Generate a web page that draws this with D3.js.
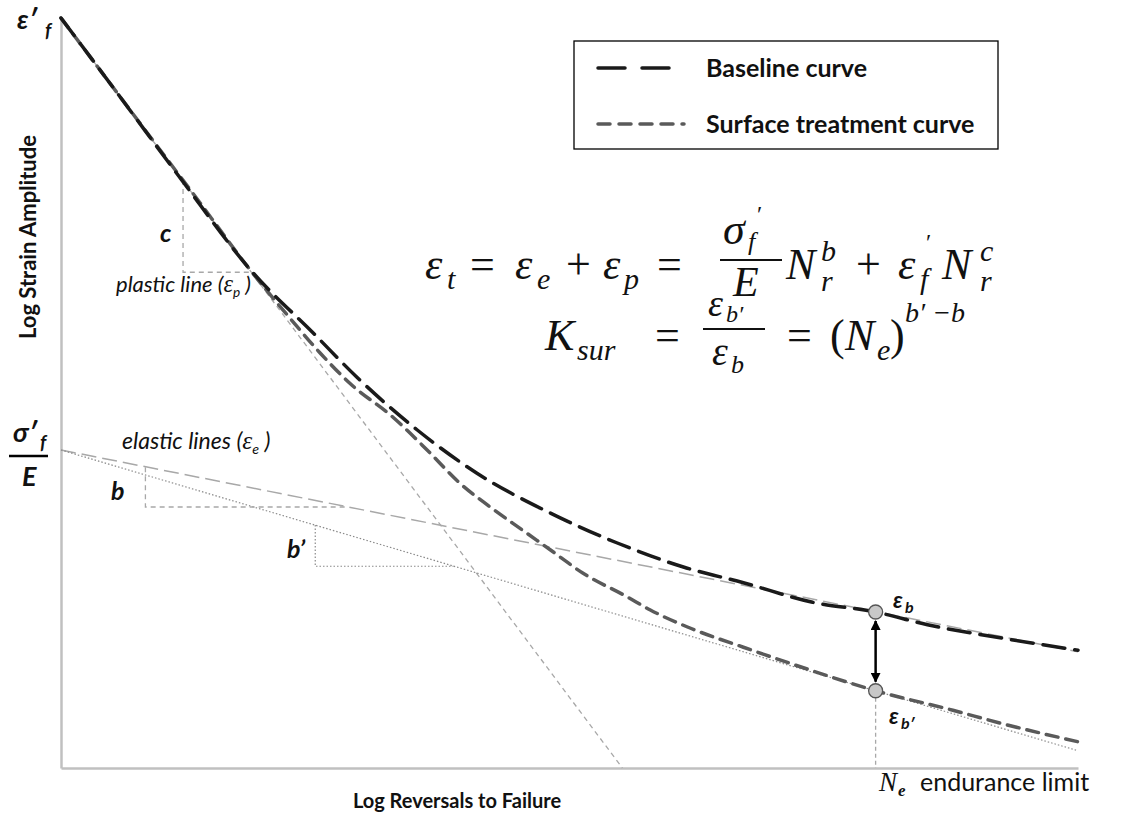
<!DOCTYPE html>
<html>
<head>
<meta charset="utf-8">
<script src="https://cdn.jsdelivr.net/npm/d3@7"></script>
<style>
  body { margin: 0; background: #fff; }
  text { font-family: Lato, "Noto Sans", sans-serif; fill: #111; }
  .math { font-family: "Liberation Serif", "DejaVu Serif", serif; font-style: italic; }
  .up { font-style: normal; }
</style>
</head>
<body>
<svg id="chart" width="1121" height="816"></svg>
<script>
// values in log units, both axes 0..100
var plasticLine = [[0, 100], [55.2, 0]];
var elasticLine = [[0, 42.4], [100, 15.5]];
var elasticLineSur = [[0, 42.4], [100, 2.3]];

var baselineCurve = [
  [0, 100], [5.8, 89.5], [11.7, 78.7], [18.9, 66.0], [24.8, 58.0], [29.1, 52.1],
  [35.0, 45.1], [40.9, 39.3], [48.1, 34.0], [54.7, 30.0], [61.2, 26.8], [67.1, 24.7],
  [73.9, 22.1], [80.1, 20.8], [85.2, 19.1], [92.6, 17.3], [100, 15.7]
];
var surfaceCurve = [
  [0, 100], [8.8, 84.1], [13.7, 75.3], [18.6, 66.4], [22.5, 60.0], [25.5, 55.3],
  [28.4, 51.3], [32.7, 46.7], [36.0, 42.4], [39.2, 38.0], [42.2, 34.8], [45.4, 31.7],
  [48.1, 29.1], [51.3, 26.0], [55.7, 22.8], [57.9, 21.1], [61.6, 18.8], [67.1, 16.1],
  [72.7, 13.5], [80.1, 10.3], [87.7, 7.7], [92.3, 6.0], [100, 3.5]
];

var triC = [[12.0, 78.4], [12.0, 66.1], [18.6, 66.1]];
var triB = [[8.3, 40.1], [8.3, 34.8], [27.9, 34.8]];
var triB2 = [[25.0, 32.4], [25.0, 26.9], [38.6, 26.9]];

var enduranceN = 80.1;
var enduranceStrain = [20.8, 10.3];

var legendNames = ["Baseline curve", "Surface treatment curve"];

var svg = d3.select("#chart");

var x = d3.scaleLinear().domain([0, 100]).range([61, 1078]);
var y = d3.scaleLinear().domain([0, 100]).range([768, 18]);

var line = d3.line().x(function(d) { return x(d[0]); }).y(function(d) { return y(d[1]); });
var curve = d3.line().x(function(d) { return x(d[0]); }).y(function(d) { return y(d[1]); })
    .curve(d3.curveMonotoneX);

// axes (no ticks)
svg.append("g").attr("transform", "translate(0," + y(0) + ")")
    .call(d3.axisBottom(x).tickValues([]).tickSizeOuter(0));
svg.append("g").attr("transform", "translate(" + x(0) + ",0)")
    .call(d3.axisLeft(y).tickValues([]).tickSizeOuter(0));
svg.selectAll(".domain").attr("stroke", "#c0c0c0").attr("stroke-width", 2.5);

// guide lines
svg.append("path").attr("d", line(plasticLine)).attr("fill", "none")
    .attr("stroke", "#a8a8a8").attr("stroke-width", 1.3).attr("stroke-dasharray", "5,4");
svg.append("path").attr("d", line(elasticLine)).attr("fill", "none")
    .attr("stroke", "#a8a8a8").attr("stroke-width", 1.5).attr("stroke-dasharray", "15,6");
svg.append("path").attr("d", line(elasticLineSur)).attr("fill", "none")
    .attr("stroke", "#8a8a8a").attr("stroke-width", 1.2).attr("stroke-dasharray", "1.5,2");

svg.append("path").attr("d", line(triC)).attr("fill", "none")
    .attr("stroke", "#a8a8a8").attr("stroke-width", 1.3).attr("stroke-dasharray", "5,4");
svg.append("path").attr("d", line(triB)).attr("fill", "none")
    .attr("stroke", "#a8a8a8").attr("stroke-width", 1.3).attr("stroke-dasharray", "5,4");
svg.append("path").attr("d", line(triB2)).attr("fill", "none")
    .attr("stroke", "#8a8a8a").attr("stroke-width", 1.2).attr("stroke-dasharray", "1.5,2");

// endurance drop line
svg.append("line")
    .attr("x1", x(enduranceN)).attr("x2", x(enduranceN))
    .attr("y1", y(enduranceStrain[1])).attr("y2", y(0))
    .attr("stroke", "#a8a8a8").attr("stroke-width", 1.3).attr("stroke-dasharray", "4,3");

// curves
svg.append("path").attr("d", curve(surfaceCurve)).attr("fill", "none")
    .attr("stroke", "#5a5a5a").attr("stroke-width", 3.5).attr("stroke-dasharray", "12,8")
    .attr("stroke-linecap", "round");
svg.append("path").attr("d", curve(baselineCurve)).attr("fill", "none")
    .attr("stroke", "#1a1a1a").attr("stroke-width", 3.5).attr("stroke-dasharray", "22,10")
    .attr("stroke-linecap", "round");

// arrow between the two strains
var defs = svg.append("defs");
["arrEnd", "arrStart"].forEach(function(id, i) {
  defs.append("marker").attr("id", id).attr("viewBox", "0 0 10 10")
      .attr("refX", 9).attr("refY", 5).attr("markerWidth", 4).attr("markerHeight", 4)
      .attr("orient", i ? "auto-start-reverse" : "auto")
    .append("path").attr("d", "M0,0L10,5L0,10Z").attr("fill", "#000");
});
svg.append("line")
    .attr("x1", x(enduranceN)).attr("x2", x(enduranceN))
    .attr("y1", y(enduranceStrain[0]) + 9).attr("y2", y(enduranceStrain[1]) - 9)
    .attr("stroke", "#000").attr("stroke-width", 2.5)
    .attr("marker-start", "url(#arrStart)").attr("marker-end", "url(#arrEnd)");

svg.selectAll(".pt").data(enduranceStrain).enter().append("circle")
    .attr("class", "pt")
    .attr("cx", x(enduranceN)).attr("cy", function(d) { return y(d); })
    .attr("r", 7).attr("fill", "#c8c8c8").attr("stroke", "#555").attr("stroke-width", 1.3);

// legend
var lg = svg.append("g");
lg.append("rect").attr("x", 574).attr("y", 41).attr("width", 424).attr("height", 108)
    .attr("fill", "#fff").attr("stroke", "#000").attr("stroke-width", 1.3);
lg.selectAll(".ll").data(legendNames).enter().append("line")
    .attr("x1", 598).attr("x2", 684)
    .attr("y1", function(d, i) { return 68 + i * 56; }).attr("y2", function(d, i) { return 68 + i * 56; })
    .attr("stroke", function(d, i) { return i ? "#5a5a5a" : "#1a1a1a"; })
    .attr("stroke-width", 3.5)
    .attr("stroke-dasharray", function(d, i) { return i ? "12,9" : "27,17"; })
    .attr("stroke-linecap", "round");
lg.selectAll(".lt").data(legendNames).enter().append("text")
    .attr("x", 706).attr("y", function(d, i) { return 77 + i * 56; })
    .style("font-size", "25px").style("font-weight", "bold")
    .text(function(d) { return d; });

// helper for text pieces
function put(str, px, py, size, cls, weight, italic) {
  return svg.append("text").attr("x", px).attr("y", py)
      .attr("class", cls || null)
      .style("font-size", size + "px")
      .style("font-weight", weight || "normal")
      .style("font-style", italic ? "italic" : null)
      .text(str);
}
// label with a greek subscript inside brackets: "name (εs )"
function subLabel(name, sub, px, py, size) {
  var t = svg.append("text").attr("x", px).attr("y", py)
      .style("font-size", size + "px").style("font-style", "italic");
  t.append("tspan").text(name + " (");
  t.append("tspan").attr("class", "math").style("font-size", (size * 1.1) + "px").text("\u03b5");
  t.append("tspan").attr("dy", 5).style("font-size", (size * 0.62) + "px").text(sub);
  t.append("tspan").attr("dy", -5).text(" )");
  return t;
}

// axis titles
put("Log Reversals to Failure", 457, 808, 20, null, "bold").attr("text-anchor", "middle");
put("Log Strain Amplitude", 0, 0, 22, null, "bold")
    .attr("text-anchor", "middle").attr("transform", "translate(36,237) rotate(-90)");

// y-axis markers
put("\u03b5\u2032", 17, 29, 27, null, "bold", true);
put("f", 45, 37, 19, null, "bold", true);
put("\u03c3\u2032", 13, 442, 27, null, "bold", true);
put("f", 40, 449, 19, null, "bold", true);
svg.append("line").attr("x1", 9).attr("x2", 48).attr("y1", 456).attr("y2", 456)
    .attr("stroke", "#000").attr("stroke-width", 2.5);
put("E", 22, 486, 27, null, "bold", true);

// annotations
put("c", 160, 242, 25, null, "bold", true);
put("b", 111, 500, 25, null, "bold", true);
put("b\u2019", 287, 558, 25, null, "bold", true);
subLabel("plastic line", "p", 116, 292, 22);
subLabel("elastic lines", "e", 122, 449, 23);

put("\u03b5", 893, 608, 23, null, "bold", true);
put("b", 905, 613, 16, null, "bold", true);
put("\u03b5", 889, 724, 23, null, "bold", true);
put("b\u2032", 901, 729, 16, null, "bold", true);

put("N", 879, 791, 27, "math");
put("e", 898, 796, 17, "math", "bold");
put("endurance limit", 920, 791, 25);

// equation 1
put("\u03b5", 425, 279, 44, "math");
put("t", 447, 289, 30, "math");
put("=", 470, 279, 44, "math up");
put("\u03b5", 515, 279, 44, "math");
put("e", 537, 289, 30, "math");
put("+", 566, 279, 44, "math up");
put("\u03b5", 603, 279, 44, "math");
put("p", 624, 289, 30, "math");
put("=", 657, 279, 44, "math up");
put("\u03c3", 723, 244, 44, "math");
put("f", 748, 250, 26, "math");
put("\u2032", 757, 222, 24, "math up");
svg.append("line").attr("x1", 720).attr("x2", 782).attr("y1", 260).attr("y2", 260)
    .attr("stroke", "#111").attr("stroke-width", 2);
put("E", 733, 296, 42, "math");
put("N", 786, 279, 44, "math");
put("b", 821, 261, 30, "math");
put("r", 821, 291, 30, "math");
put("+", 856, 279, 44, "math up");
put("\u03b5", 898, 279, 44, "math");
put("f", 920, 289, 30, "math");
put("\u2032", 926, 250, 24, "math up");
put("N", 942, 279, 44, "math");
put("c", 980, 261, 30, "math");
put("r", 980, 291, 30, "math");

// equation 2
put("K", 545, 350, 44, "math");
put("sur", 577, 360, 30, "math");
put("=", 655, 350, 44, "math up");
put("\u03b5", 708, 316, 38, "math");
put("b\u2032", 726, 322, 24, "math");
svg.append("line").attr("x1", 703).attr("x2", 765).attr("y1", 329).attr("y2", 329)
    .attr("stroke", "#111").attr("stroke-width", 2);
put("\u03b5", 712, 365, 40, "math");
put("b", 731, 373, 26, "math");
put("=", 787, 350, 44, "math up");
put("(", 830, 350, 44, "math up");
put("N", 845, 350, 44, "math");
put("e", 877, 360, 30, "math");
put(")", 890, 350, 44, "math up");
put("b\u2032 \u2212b", 905, 322, 28, "math");
</script>
</body>
</html>
